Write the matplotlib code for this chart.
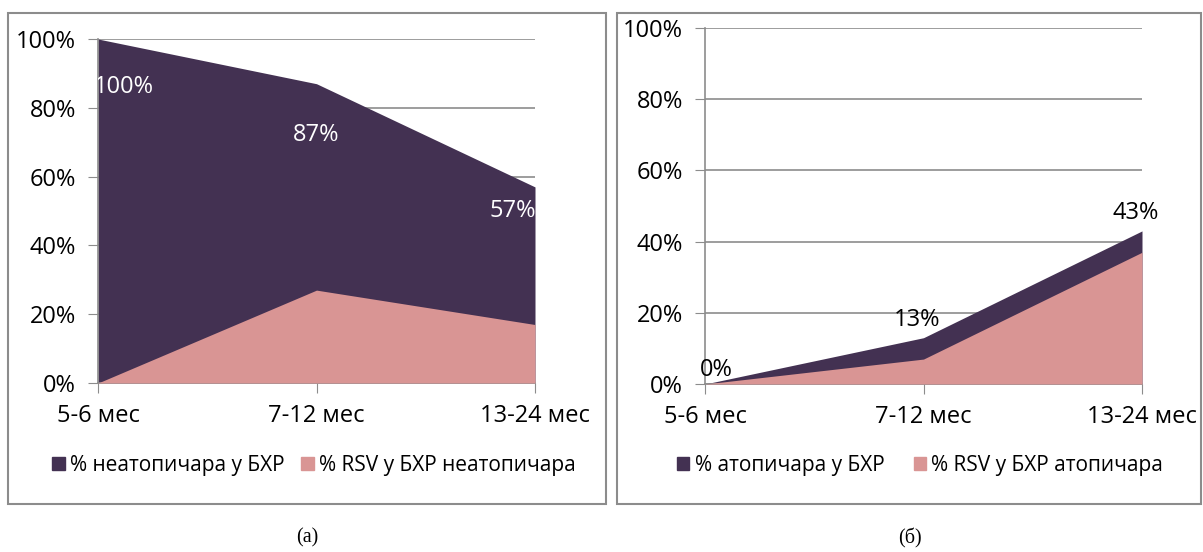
import matplotlib.pyplot as plt
from matplotlib.patches import Patch, Rectangle
from matplotlib.ticker import PercentFormatter

plt.rcParams['font.family'] = ['Open Sans', 'DejaVu Sans']

categories = ['5-6 мес', '7-12 мес', '13-24 мес']
non_atopic = [100, 87, 57]
rsv_non_atopic = [0, 27, 17]
atopic = [0, 13, 43]
rsv_atopic = [0, 7, 37]

purple = '#433152'
pink = '#D99594'
grey = '#8c8c8c'

W, H = 1203, 552
fig = plt.figure(figsize=(W / 100, H / 100), dpi=100)


def px_axes(x0, y0, x1, y1):
    return fig.add_axes([x0 / W, 1 - y1 / H, (x1 - x0) / W, (y1 - y0) / H])


def panel_box(x0, y0, x1, y1):
    fig.patches.append(Rectangle((x0 / W, 1 - y1 / H), (x1 - x0) / W, (y1 - y0) / H,
                                 transform=fig.transFigure, fill=False,
                                 edgecolor=grey, linewidth=1.5))


def style(ax):
    ax.set_xlim(0, 2)
    ax.set_ylim(0, 100)
    ax.set_yticks(range(0, 101, 20))
    ax.yaxis.set_major_formatter(PercentFormatter(decimals=0))
    ax.set_xticks(range(len(categories)))
    ax.set_xticklabels(categories)
    ax.grid(axis='y', color=grey, linewidth=1.2, zorder=0)
    ax.set_axisbelow(True)
    for s in ['top', 'right']:
        ax.spines[s].set_visible(False)
    for s in ['left', 'bottom']:
        ax.spines[s].set_color(grey)
        ax.spines[s].set_linewidth(1.2)
    ax.tick_params(axis='y', length=7, color=grey, labelsize=17, pad=9)
    ax.tick_params(axis='x', length=7, color=grey, labelsize=17, pad=8)
    ax.margins(0)


x = list(range(len(categories)))

# (a)
panel_box(8, 13, 606, 504)
ax1 = px_axes(98, 39, 535, 383)
style(ax1)
ax1.fill_between(x, non_atopic, color=purple, linewidth=0, zorder=2)
ax1.fill_between(x, rsv_non_atopic, color=pink, linewidth=0, zorder=3)
label_pos1 = [(0.12, 86), (0.0, 72), (-0.1, 50)]
for i, (dx, yy) in enumerate(label_pos1):
    ax1.text(x[i] + dx, yy, f'{non_atopic[i]}%', color='white', fontsize=17,
             ha='center', va='center', zorder=4, clip_on=True)
fig.legend(handles=[Patch(color=purple, label='% неатопичара у БХР'),
                    Patch(color=pink, label='% RSV у БХР неатопичара')],
           loc='center', bbox_to_anchor=(314 / W, 1 - 465 / H), ncol=2,
           frameon=False, fontsize=15, handlelength=0.6, handleheight=0.6,
           handletextpad=0.25, columnspacing=0.8)
fig.text(307 / W, 1 - 538 / H, '(a)', family='Liberation Serif', fontsize=14.5,
         ha='center', va='center')

# (б)
panel_box(617, 13, 1201, 504)
ax2 = px_axes(705, 28, 1142, 384)
style(ax2)
ax2.fill_between(x, atopic, color=purple, linewidth=0, zorder=2)
ax2.fill_between(x, rsv_atopic, color=pink, linewidth=0, zorder=3)
label_pos2 = [(0.05, 4), (-0.03, 18), (-0.03, 48)]
for i, (dx, yy) in enumerate(label_pos2):
    ax2.text(x[i] + dx, yy, f'{atopic[i]}%', color='black', fontsize=17,
             ha='center', va='center', zorder=4, clip_on=False)
fig.legend(handles=[Patch(color=purple, label='% атопичара у БХР'),
                    Patch(color=pink, label='% RSV у БХР атопичара')],
           loc='center', bbox_to_anchor=(920 / W, 1 - 465 / H), ncol=2,
           frameon=False, fontsize=15, handlelength=0.6, handleheight=0.6,
           handletextpad=0.25, columnspacing=1.4)
fig.text(910 / W, 1 - 538 / H, '(б)', family='Liberation Serif', fontsize=14.5,
         ha='center', va='center')

fig.savefig('out.png', dpi=100)
